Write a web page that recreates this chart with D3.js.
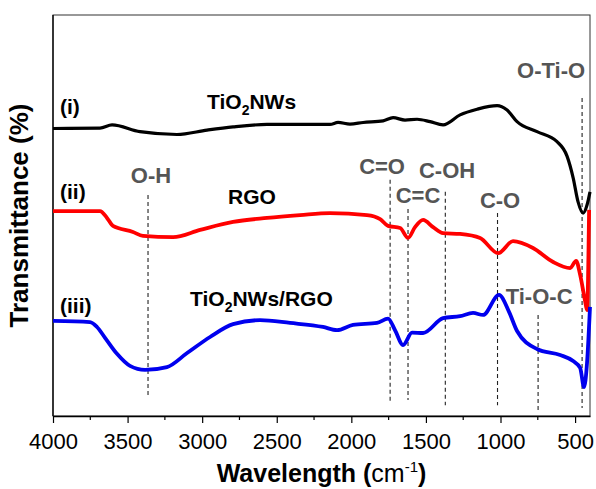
<!DOCTYPE html>
<html>
<head>
<meta charset="utf-8">
<script src="https://cdn.jsdelivr.net/npm/d3@7"></script>
<style>
  body { margin: 0; background: #fff; }
  svg { display: block; font-family: Arial, "Liberation Sans", sans-serif; }
</style>
</head>
<body>
<svg id="chart" width="596" height="489"></svg>
<script>
// wavenumber (cm-1) / transmittance (arb. units)
const tio2Wn = [4000, 3685, 3604, 3417, 3169, 2967, 2793, 2565, 2364, 2143, 2089, 2009, 1921, 1787, 1720, 1640, 1559, 1472, 1385, 1271, 1157, 1023, 956, 889, 755, 621, 554, 513, 480, 446, 420, 400];
const tio2T  = [71.7, 71.8, 72.6, 70.9, 70.2, 71.3, 72.1, 72.7, 72.7, 72.7, 73.2, 72.8, 73.2, 73.6, 74.4, 73.8, 74.0, 73.4, 72.6, 75.1, 76.5, 77.4, 76.3, 73.4, 70.9, 68.4, 64.8, 59.4, 53.4, 50.6, 52.6, 55.9];

const rgoWn = [4000, 3685, 3638, 3598, 3464, 3397, 3195, 3014, 2793, 2565, 2344, 2143, 1895, 1807, 1754, 1673, 1620, 1573, 1519, 1452, 1385, 1271, 1137, 1016, 916, 782, 647, 533, 493, 466, 433, 420, 406];
const rgoT  = [51.1, 51.1, 49.4, 47.4, 45.9, 44.9, 44.6, 46.4, 48.4, 49.4, 50.1, 50.6, 50.1, 49.1, 47.4, 46.9, 44.4, 47.1, 48.9, 47.1, 45.6, 45.4, 44.4, 40.6, 43.6, 41.9, 38.4, 36.9, 38.7, 35.2, 28.7, 26.4, 51.4];

const compWn = [4000, 3752, 3705, 3651, 3571, 3484, 3383, 3236, 3101, 2947, 2793, 2612, 2411, 2190, 2096, 1989, 1828, 1754, 1707, 1653, 1593, 1519, 1385, 1271, 1184, 1117, 1010, 942, 889, 755, 600, 513, 466, 440, 420, 400];
const compT  = [23.7, 23.4, 22.2, 19.5, 15.5, 12.5, 11.5, 12.2, 15.7, 19.7, 22.9, 23.9, 23.2, 22.2, 21.4, 22.7, 23.2, 24.3, 21.4, 17.7, 20.8, 20.7, 24.4, 24.9, 25.7, 25.2, 30.2, 25.9, 21.2, 16.7, 15.2, 13.7, 12.0, 7.2, 13.2, 27.2];

// band markers: label, wavenumber, line top / bottom (T units), label position
const bandNames = ["O-H", "C=O", "C=C", "C-OH", "C-O", "Ti-O-C", "O-Ti-O"];
const bandWn    = [3363, 1740, 1620, 1370, 1020, 748, 453];
const bandTop   = [55.1, 58.9, 51.6, 55.9, 50.6, 25.2, 79.3];
const bandBot   = [4.5, 3.2, 4.0, 2.7, 2.7, 1.5, 2.0];
const bandLblWn = [3343, 1794, 1553, 1358, 1003, 741, 661];
const bandLblT  = [58.1, 60.3, 53.1, 59.4, 51.9, 27.9, 84.3];

const xTicks = [4000, 3500, 3000, 2500, 2000, 1500, 1000, 500];

const margin = {top: 15, right: 6, bottom: 73, left: 53};
const width = 596, height = 489;

const svg = d3.select("#chart");

const x = d3.scaleLinear().domain([4000, 400]).range([margin.left, width - margin.right]);
const y = d3.scaleLinear().domain([0, 100]).range([height - margin.bottom, margin.top]);

// frame
svg.append("rect")
  .attr("x", x(4000)).attr("y", y(100))
  .attr("width", x(400) - x(4000)).attr("height", y(0) - y(100))
  .attr("fill", "none").attr("stroke", "#333").attr("stroke-width", 1);

// x axis
const xAxis = d3.axisBottom(x).tickValues(xTicks).tickSize(7).tickSizeOuter(0).tickPadding(10).tickFormat(d3.format("d"));
const gx = svg.append("g").attr("transform", `translate(0,${y(0)})`).call(xAxis);
gx.select(".domain").attr("stroke", "#000").attr("stroke-width", 1.3);
gx.selectAll(".tick line").attr("stroke", "#000").attr("stroke-width", 1.2);
gx.selectAll(".tick text").attr("font-size", 22).attr("fill", "#000")
  .attr("font-family", "Arial, 'Liberation Sans', sans-serif");

const minorTicks = d3.range(3750, 400, -500);
gx.selectAll(".minor").data(minorTicks).enter().append("line")
  .attr("x1", d => x(d)).attr("x2", d => x(d))
  .attr("y1", 0).attr("y2", 4)
  .attr("stroke", "#000").attr("stroke-width", 1.2);

// y axis line (no ticks)
svg.append("line")
  .attr("x1", x(4000)).attr("x2", x(4000))
  .attr("y1", y(0)).attr("y2", y(100))
  .attr("stroke", "#000").attr("stroke-width", 1.3);

// band dashed lines
svg.append("g").selectAll("line").data(bandWn).enter().append("line")
  .attr("x1", d => x(d)).attr("x2", d => x(d))
  .attr("y1", (d, i) => y(bandTop[i])).attr("y2", (d, i) => y(bandBot[i]))
  .attr("stroke", "#222").attr("stroke-width", 1.1)
  .attr("stroke-dasharray", "4,3");

// curves
const line = d3.line().x(d => x(d[0])).y(d => y(d[1])).curve(d3.curveMonotoneX);
const series = [
  {wn: tio2Wn, t: tio2T, color: "#000000", w: 3.2},
  {wn: rgoWn, t: rgoT, color: "#ff0000", w: 3.8},
  {wn: compWn, t: compT, color: "#0000ee", w: 3.8}
];
series.forEach(s => {
  svg.append("path")
    .datum(s.wn.map((w, i) => [w, s.t[i]]))
    .attr("d", line)
    .attr("fill", "none")
    .attr("stroke", s.color)
    .attr("stroke-width", s.w)
    .attr("stroke-linejoin", "round");
});

// band labels
svg.append("g").selectAll("text").data(bandNames).enter().append("text")
  .attr("x", (d, i) => x(bandLblWn[i]))
  .attr("y", (d, i) => y(bandLblT[i]))
  .attr("text-anchor", "middle")
  .attr("font-size", 22).attr("font-weight", "bold").attr("fill", "#555")
  .text(d => d);

// series labels
function sampleLabel(px, py, parts) {
  const t = svg.append("text").attr("x", px).attr("y", py)
    .attr("font-size", 21).attr("font-weight", "bold").attr("fill", "#000");
  parts.forEach(p => {
    const ts = t.append("tspan").text(p.s);
    if (p.sub) ts.attr("font-size", 14).attr("dy", 6);
    if (p.back) ts.attr("dy", -6);
  });
}
sampleLabel(60, 114, [{s: "(i)"}]);
sampleLabel(60, 199, [{s: "(ii)"}]);
sampleLabel(60, 313, [{s: "(iii)"}]);
sampleLabel(207, 109, [{s: "TiO"}, {s: "2", sub: true}, {s: "NWs", back: true}]);
sampleLabel(228, 204, [{s: "RGO"}]);
sampleLabel(190, 306, [{s: "TiO"}, {s: "2", sub: true}, {s: "NWs/RGO", back: true}]);

// axis titles
const xt = svg.append("text")
  .attr("x", (x(4000) + x(400)) / 2).attr("y", 482)
  .attr("text-anchor", "middle")
  .attr("font-size", 25).attr("font-weight", "bold").attr("fill", "#000");
xt.append("tspan").text("Wavelength (");
xt.append("tspan").attr("font-weight", "normal").text("cm");
xt.append("tspan").attr("font-weight", "normal").attr("font-size", 15).attr("dy", -10).text("-1");
xt.append("tspan").attr("dy", 10).text(")");

svg.append("text")
  .attr("transform", `translate(28,${(y(0) + y(100)) / 2}) rotate(-90)`)
  .attr("text-anchor", "middle")
  .attr("font-size", 26).attr("font-weight", "bold").attr("fill", "#000")
  .text("Transmittance (%)");
</script>
</body>
</html>
